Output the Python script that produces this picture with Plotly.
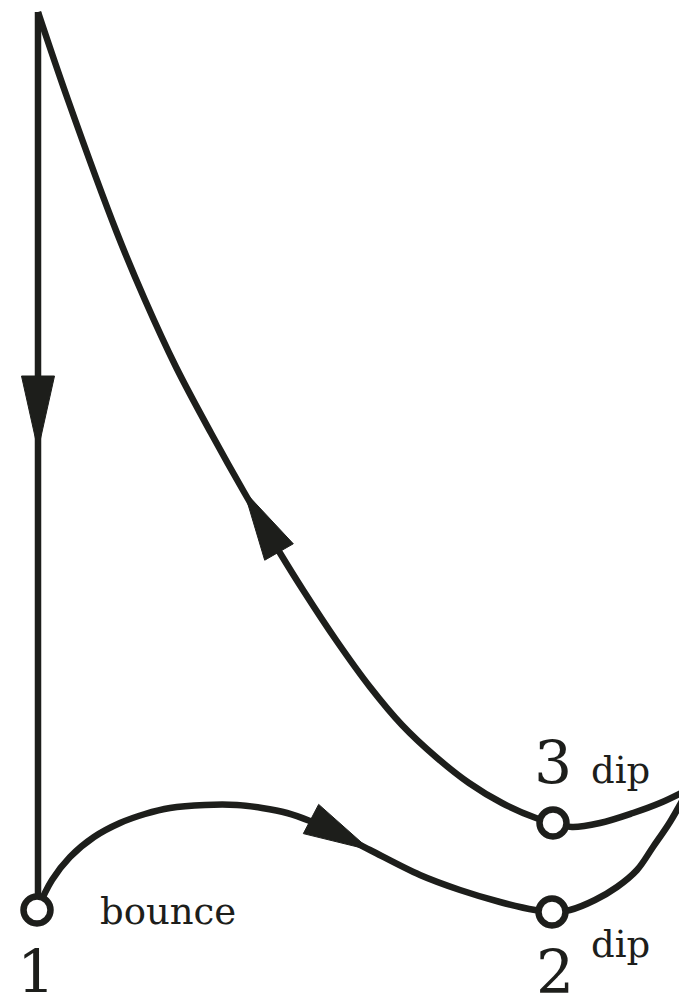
import plotly.graph_objects as go
import numpy as np

# ---- data (diagram coordinates, pixel-like units, y grows downward) ----
drop_x = [38, 38]
drop_y = [12, 910]

bottom_x = [37, 52, 70, 94, 120, 145, 170, 205, 237, 262, 287, 310, 335, 370, 420, 460, 500, 535, 552]
bottom_y = [910, 880, 857, 837, 823, 814, 808, 805, 805, 808, 813, 821, 832, 850, 875, 890, 902, 910, 912]

lower_right_x = [552, 570, 595, 617, 637, 653, 670, 687]
lower_right_y = [912, 910, 900, 887, 870, 847, 822, 792]

upper_right_x = [687, 660, 633, 600, 572, 553]
upper_right_y = [790, 803, 813, 823, 827, 823]

rise_x = [553, 536, 502, 469, 436, 402, 370, 336, 303, 280, 244, 211, 176, 145, 117, 68, 38]
rise_y = [823, 818, 803, 783, 757, 725, 687, 640, 590, 553, 492, 433, 367, 300, 233, 100, 12]

node_x = [37, 552, 553]
node_y = [910, 912, 823]
node_labels = ["1", "2", "3"]
node_label_x = [36, 555, 553]
node_label_y = [972, 972, 763]

word_labels = ["bounce", "dip", "dip"]
word_x = [168, 620, 620]
word_y = [911, 944, 770]

arrow_tip_x = [38, 370, 244]
arrow_tip_y = [450, 850, 491]
arrow_base_x = [38, 311, 279]
arrow_base_y = [376, 819, 552]

# ---- style ----
INK = "#1d1e1b"
LW = 6.5
ARROW_W = 33
W, H = 687, 1002
PAGE_MARGIN = 8  # default body margin of the html page

fig = go.Figure()

def add_path(xs, ys, shape="spline"):
    fig.add_trace(go.Scatter(x=xs, y=ys, mode="lines",
                             line=dict(color=INK, width=LW, shape=shape, smoothing=1.0),
                             hoverinfo="skip", showlegend=False, cliponaxis=False))

add_path(drop_x, drop_y, "linear")
add_path(bottom_x, bottom_y)
add_path(lower_right_x, lower_right_y)
add_path(upper_right_x, upper_right_y)
add_path(rise_x, rise_y)

# arrowheads as filled triangles
for tx, ty, bx, by in zip(arrow_tip_x, arrow_tip_y, arrow_base_x, arrow_base_y):
    d = np.array([tx - bx, ty - by], dtype=float)
    d /= np.linalg.norm(d)
    p = np.array([-d[1], d[0]]) * ARROW_W / 2
    xs = [tx, bx + p[0], bx - p[0], tx]
    ys = [ty, by + p[1], by - p[1], ty]
    fig.add_trace(go.Scatter(x=xs, y=ys, mode="lines", fill="toself",
                             fillcolor=INK, line=dict(color=INK, width=1),
                             hoverinfo="skip", showlegend=False))

# nodes
fig.add_trace(go.Scatter(x=node_x, y=node_y, mode="markers",
                         marker=dict(size=27, color="white", line=dict(color=INK, width=6.5)),
                         hoverinfo="skip", showlegend=False, cliponaxis=False))

for t, x, y in zip(node_labels, node_label_x, node_label_y):
    fig.add_annotation(x=x, y=y, text=t, showarrow=False, xanchor="center", yanchor="middle",
                       font=dict(family="DejaVu Serif", size=60, color=INK))
for t, x, y in zip(word_labels, word_x, word_y):
    fig.add_annotation(x=x, y=y, text=t, showarrow=False, xanchor="center", yanchor="middle",
                       font=dict(family="DejaVu Serif", size=37, color=INK))

fig.update_xaxes(range=[PAGE_MARGIN, W], visible=False, fixedrange=True)
fig.update_yaxes(range=[H, PAGE_MARGIN], visible=False, fixedrange=True)
fig.update_layout(width=W - PAGE_MARGIN, height=H - PAGE_MARGIN,
                  margin=dict(l=0, r=0, t=0, b=0),
                  paper_bgcolor="white", plot_bgcolor="white")

fig.write_html("out.html")
